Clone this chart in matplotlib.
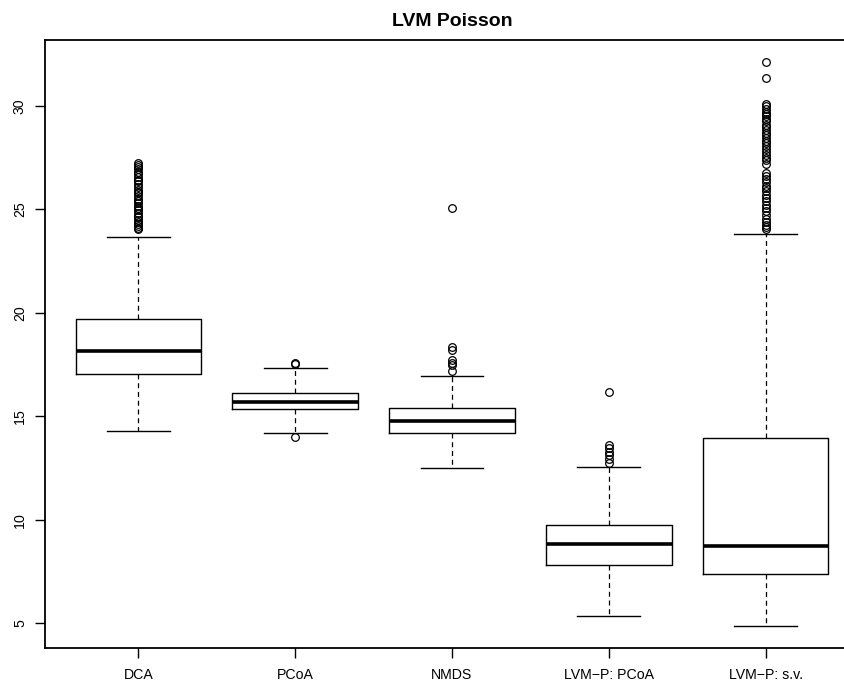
import matplotlib
matplotlib.use("Agg")
import matplotlib.pyplot as plt

plt.rcParams['font.family'] = ['Liberation Sans', 'DejaVu Sans']

# valores (resumen de cada caja)
grupos = ["DCA", "PCoA", "NMDS", "LVM\u2212P: PCoA", "LVM\u2212P: s.v."]
bigote_inf = [14.31, 14.18, 12.52, 5.35, 4.87]
q1 = [17.05, 15.34, 14.21, 7.80, 7.37]
mediana = [18.16, 15.71, 14.79, 8.83, 8.75]
q3 = [19.71, 16.14, 15.39, 9.76, 13.97]
bigote_sup = [23.68, 17.33, 16.95, 12.55, 23.80]

atipicos_dca = [24.04, 24.12, 24.2, 24.31, 24.38, 24.5, 24.61, 24.7, 24.83, 24.95,
                25.05, 25.18, 25.3, 25.42, 25.5, 25.63, 25.77, 25.85, 25.96, 26.1,
                26.22, 26.35, 26.44, 26.58, 26.7, 26.81, 26.93, 27.05, 27.14, 27.26]
atipicos_pcoa = [17.53, 17.56, 14.02]
atipicos_nmds = [25.07, 18.37, 18.21, 17.72, 17.6, 17.5, 17.21]
atipicos_lvm_pcoa = [16.16, 13.61, 13.45, 13.3, 13.15, 12.95, 12.75]
atipicos_lvm_sv = [32.11, 31.37, 30.1, 29.98, 29.85, 29.7, 29.62, 29.5, 29.38, 29.25,
                   29.1, 28.97, 28.85, 28.7, 28.58, 28.44, 28.3, 28.2, 28.05, 27.9,
                   27.78, 27.62, 27.5, 27.38, 27.2, 26.75, 26.6, 26.45, 26.3, 26.15,
                   26.02, 25.88, 25.7, 25.55, 25.4, 25.22, 25.05, 24.9, 24.72, 24.55,
                   24.4, 24.25, 24.13, 24.06]
atipicos = [atipicos_dca, atipicos_pcoa, atipicos_nmds, atipicos_lvm_pcoa, atipicos_lvm_sv]

stats = []
for i in range(len(grupos)):
    stats.append({"whislo": bigote_inf[i], "q1": q1[i], "med": mediana[i],
                  "q3": q3[i], "whishi": bigote_sup[i], "fliers": atipicos[i],
                  "label": grupos[i]})

fig = plt.figure(figsize=(8.45, 6.86), dpi=100)
# el grafico original esta recortado por la derecha
ax = fig.add_axes([45 / 845, 1 - 648.3 / 686, (859 - 45) / 845, (648.3 - 39.7) / 686])

ax.bxp(stats, widths=0.8, showcaps=True,
       boxprops=dict(color="black", linewidth=1.0),
       medianprops=dict(color="black", linewidth=2.6),
       whiskerprops=dict(color="black", linewidth=0.9, linestyle=(0, (4, 3))),
       capprops=dict(color="black", linewidth=1.0),
       capwidths=0.4,
       flierprops=dict(marker="o", markerfacecolor="none", markeredgecolor="black",
                       markersize=5.5, markeredgewidth=0.9, linestyle="none"))

ax.set_xlim(0.405, 5.595)
ax.set_ylim(3.79, 33.2)
ax.set_yticks([5, 10, 15, 20, 25, 30])
ax.set_yticklabels(["5", "10", "15", "20", "25", "30"], rotation=90, va="center")
ax.tick_params(axis="both", length=7, width=1.0, labelsize=10.2)
ax.tick_params(axis="x", pad=7)
ax.tick_params(axis="y", pad=6)
for s in ax.spines.values():
    s.set_linewidth(1.3)
ax.spines["right"].set_visible(False)

ax.set_title("LVM Poisson", fontsize=14, fontweight="bold", pad=10)

fig.savefig("out.png", dpi=100)
